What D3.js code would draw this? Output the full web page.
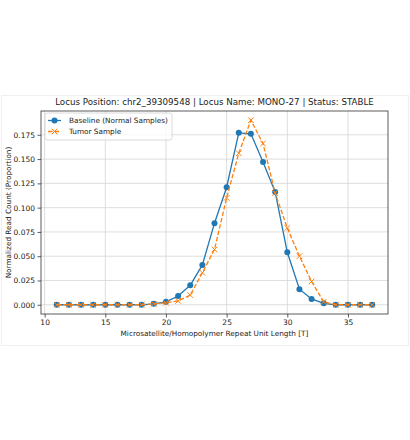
<!DOCTYPE html>
<html>
<head>
<meta charset="utf-8">
<script src="https://cdn.jsdelivr.net/npm/d3@7"></script>
<style>
  body { margin: 0; background: #fff; }
  text { font-family: "DejaVu Sans", sans-serif; fill: #222; }
</style>
</head>
<body>
<script>
var repeatLengths = [11,12,13,14,15,16,17,18,19,20,21,22,23,24,25,26,27,28,29,30,31,32,33,34,35,36,37];
var baseline = [0,0,0,0,0,0,0,0,0.001,0.003,0.009,0.020,0.041,0.084,0.121,0.177,0.176,0.147,0.116,0.054,0.016,0.006,0.0015,0,0,0,0];
var tumor    = [0,0,0,0,0,0,0,0,0.001,0.002,0.004,0.010,0.033,0.057,0.110,0.156,0.190,0.166,0.115,0.079,0.050,0.024,0.003,0,0,0,0];
var xTicks = [10,15,20,25,30,35];
var yTicks = [0,0.025,0.05,0.075,0.1,0.125,0.15,0.175];
var titleText = "Locus Position: chr2_39309548 | Locus Name: MONO-27 | Status: STABLE";
var seriesNames = ["Baseline (Normal Samples)", "Tumor Sample"];

var width = 410, height = 440;
var margin = {top: 111, right: 22, bottom: 126, left: 41};
var w = width - margin.left - margin.right;
var h = height - margin.top - margin.bottom;

var svg = d3.select("body").append("svg")
    .attr("width", width)
    .attr("height", height);

// faint figure border
svg.append("rect")
    .attr("x", 1.5).attr("y", 95.5)
    .attr("width", 407).attr("height", 250)
    .attr("fill", "none")
    .attr("stroke", "#f0f0f0");

var g = svg.append("g").attr("transform", "translate(" + margin.left + "," + margin.top + ")");

var x = d3.scaleLinear().domain([9.7, 38.3]).range([0, w]);
var y = d3.scaleLinear().domain([-0.0095, 0.1995]).range([h, 0]);

// grid
g.append("g").selectAll("line").data(xTicks).enter().append("line")
    .attr("x1", function(d) { return x(d); }).attr("x2", function(d) { return x(d); })
    .attr("y1", 0).attr("y2", h)
    .attr("stroke", "#d6d6d6").attr("stroke-width", 0.8);
g.append("g").selectAll("line").data(yTicks).enter().append("line")
    .attr("y1", function(d) { return y(d); }).attr("y2", function(d) { return y(d); })
    .attr("x1", 0).attr("x2", w)
    .attr("stroke", "#d6d6d6").attr("stroke-width", 0.8);

// axes
var xAxis = g.append("g")
    .attr("transform", "translate(0," + h + ")")
    .call(d3.axisBottom(x).tickValues(xTicks).tickSize(3.5).tickPadding(2.5).tickFormat(d3.format("d")));
var yAxis = g.append("g")
    .call(d3.axisLeft(y).tickValues(yTicks).tickSize(3.5).tickPadding(2.5).tickFormat(d3.format(".3f")));
[xAxis, yAxis].forEach(function(a) {
  a.select(".domain").remove();
  a.selectAll("line").attr("stroke", "#333").attr("stroke-width", 0.8);
  a.selectAll("text").style("font-family", "DejaVu Sans").style("font-size", "7.5px").attr("fill", "#222");
});

var line = d3.line()
    .x(function(d, i) { return x(repeatLengths[i]); })
    .y(function(d) { return y(d); });

// baseline
g.append("path").datum(baseline)
    .attr("d", line).attr("fill", "none")
    .attr("stroke", "#1f77b4").attr("stroke-width", 1.3);
g.append("g").selectAll("circle").data(baseline).enter().append("circle")
    .attr("cx", function(d, i) { return x(repeatLengths[i]); })
    .attr("cy", function(d) { return y(d); })
    .attr("r", 3)
    .attr("fill", "#1f77b4");

// tumor
g.append("path").datum(tumor)
    .attr("d", line).attr("fill", "none")
    .attr("stroke", "#ff7f0e").attr("stroke-width", 1.3)
    .attr("stroke-dasharray", "4.5,2");
var xs = 2.8;
g.append("g").selectAll("path").data(tumor).enter().append("path")
    .attr("transform", function(d, i) { return "translate(" + x(repeatLengths[i]) + "," + y(d) + ")"; })
    .attr("d", "M" + (-xs) + "," + (-xs) + "L" + xs + "," + xs + "M" + (-xs) + "," + xs + "L" + xs + "," + (-xs))
    .attr("stroke", "#ff7f0e").attr("stroke-width", 1).attr("fill", "none");

// frame
g.append("rect")
    .attr("x", 0).attr("y", 0).attr("width", w).attr("height", h)
    .attr("fill", "none").attr("stroke", "#333").attr("stroke-width", 0.8);

// title and labels
svg.append("text")
    .attr("x", margin.left + w / 2).attr("y", 105)
    .attr("text-anchor", "middle")
    .style("font-size", "8.7px")
    .text(titleText);
svg.append("text")
    .attr("x", margin.left + w / 2).attr("y", 336)
    .attr("text-anchor", "middle")
    .style("font-size", "7.3px")
    .text("Microsatellite/Homopolymer Repeat Unit Length [T]");
svg.append("text")
    .attr("transform", "translate(10.5," + (margin.top + h / 2) + ") rotate(-90)")
    .attr("text-anchor", "middle")
    .style("font-size", "7.3px")
    .text("Normalized Read Count (Proportion)");

// legend
var lg = svg.append("g").attr("transform", "translate(45,113)");
lg.append("rect")
    .attr("width", 127).attr("height", 27).attr("rx", 2.5)
    .attr("fill", "#fff").attr("fill-opacity", 0.8)
    .attr("stroke", "#d0d0d0").attr("stroke-width", 0.8);
lg.append("line").attr("x1", 3).attr("x2", 16).attr("y1", 7.5).attr("y2", 7.5)
    .attr("stroke", "#1f77b4").attr("stroke-width", 1.3);
lg.append("circle").attr("cx", 9.5).attr("cy", 7.5).attr("r", 3).attr("fill", "#1f77b4");
lg.append("line").attr("x1", 3).attr("x2", 16).attr("y1", 18.5).attr("y2", 18.5)
    .attr("stroke", "#ff7f0e").attr("stroke-width", 1.3).attr("stroke-dasharray", "4.5,2");
lg.append("path").attr("transform", "translate(9.5,18.5)")
    .attr("d", "M" + (-xs) + "," + (-xs) + "L" + xs + "," + xs + "M" + (-xs) + "," + xs + "L" + xs + "," + (-xs))
    .attr("stroke", "#ff7f0e").attr("stroke-width", 1);
lg.selectAll("text.lab").data(seriesNames).enter().append("text")
    .attr("x", 24).attr("y", function(d, i) { return 10 + i * 11; })
    .style("font-size", "7.3px")
    .text(function(d) { return d; });
</script>
</body>
</html>
